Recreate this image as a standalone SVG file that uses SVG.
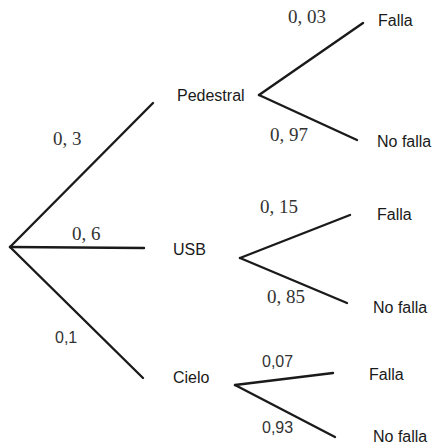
<svg xmlns="http://www.w3.org/2000/svg" width="438" height="446" viewBox="0 0 438 446">
<style>
.e{stroke:#1a1a1a;stroke-width:2.4;fill:none;stroke-linecap:round}
.n{font-family:"Liberation Sans",Arial,sans-serif;font-size:16px;fill:#1a1a1a}
.s{font-family:"Liberation Serif","Times New Roman",serif;font-size:19px;fill:#333}
.p{font-family:"Liberation Sans",Arial,sans-serif;font-size:16px;fill:#333}
</style>
<rect width="438" height="446" fill="#fff"/>
<g id="connectors">
<line class="e" x1="10" y1="247" x2="153" y2="103"/>
<line class="e" x1="10" y1="247" x2="144" y2="248"/>
<line class="e" x1="10" y1="247" x2="143" y2="378"/>
<line class="e" x1="259" y1="95" x2="363" y2="23"/>
<line class="e" x1="259" y1="95" x2="357" y2="140"/>
<line class="e" x1="240" y1="258" x2="350" y2="215"/>
<line class="e" x1="240" y1="258" x2="347" y2="303"/>
<line class="e" x1="235" y1="385" x2="333" y2="373"/>
<line class="e" x1="235" y1="385" x2="335" y2="437"/>
<text class="s" x="53" y="145">0, 3</text>
<text class="s" x="72" y="240">0, 6</text>
<text class="p" x="55" y="343">0,1</text>
<text class="s" x="288" y="23">0, 03</text>
<text class="s" x="270" y="141">0, 97</text>
<text class="s" x="260" y="213">0, 15</text>
<text class="s" x="267" y="303">0, 85</text>
<text class="p" x="262" y="367">0,07</text>
<text class="p" x="262" y="433">0,93</text>
</g>
<g id="root"></g>
<g id="pedestral"><text class="n" x="177" y="101">Pedestral</text></g>
<g id="usb"><text class="n" x="173" y="255">USB</text></g>
<g id="cielo"><text class="n" x="173" y="383">Cielo</text></g>
<g id="ped-falla"><text class="n" x="378" y="26">Falla</text></g>
<g id="ped-nofalla"><text class="n" x="377" y="147">No falla</text></g>
<g id="usb-falla"><text class="n" x="377" y="220">Falla</text></g>
<g id="usb-nofalla"><text class="n" x="373" y="313">No falla</text></g>
<g id="cielo-falla"><text class="n" x="369" y="380">Falla</text></g>
<g id="cielo-nofalla"><text class="n" x="373" y="442">No falla</text></g>
</svg>
